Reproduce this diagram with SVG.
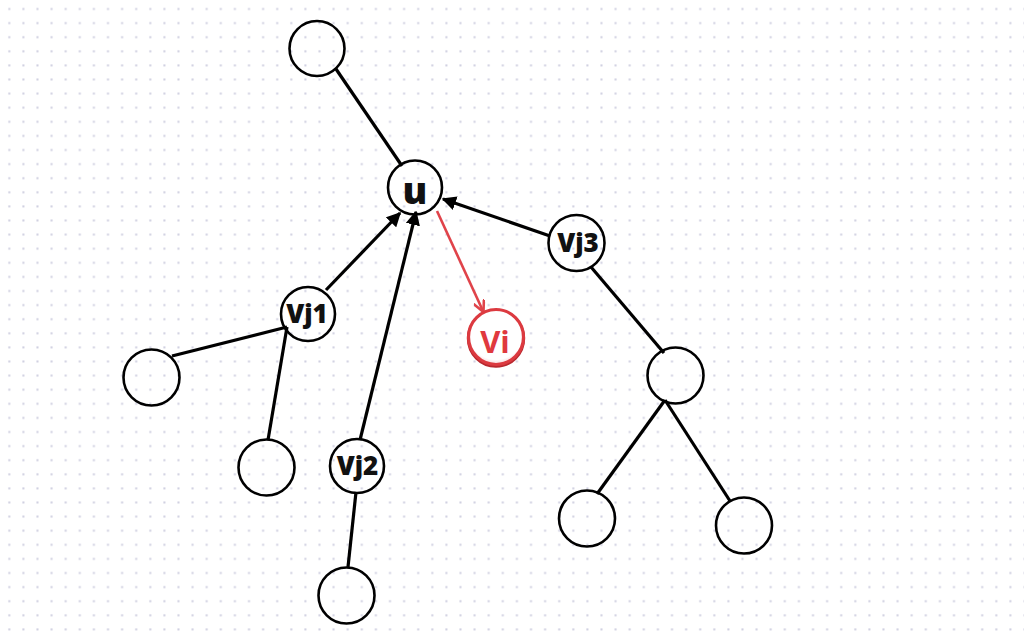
<svg xmlns="http://www.w3.org/2000/svg" width="1024" height="633" viewBox="0 0 1024 633">
<defs>
<pattern id="dots" patternUnits="userSpaceOnUse" x="2.3" y="2" width="14.1" height="14.1">
<rect x="6" y="6" width="2" height="2" fill="#cfcfe0"/>
</pattern>
<marker id="ah" viewBox="0 0 10 10" refX="9" refY="5" markerWidth="4.5" markerHeight="4.5" orient="auto" markerUnits="strokeWidth">
<path d="M0,0 L10,5 L0,10 z" fill="#000"/>
</marker>
<marker id="ahr" viewBox="0 0 10 10" refX="9" refY="5" markerWidth="4.5" markerHeight="4.5" orient="auto" markerUnits="strokeWidth">
<path d="M0,0 L10,5 L0,10" fill="none" stroke="#e0434a" stroke-width="2.2"/>
</marker>
<radialGradient id="vig" cx="50%" cy="40%" r="60%">
<stop offset="0%" stop-color="#ffffff"/>
<stop offset="85%" stop-color="#ffffff"/>
<stop offset="100%" stop-color="#f6d3d5"/>
</radialGradient>
</defs>
<style>
.n{fill:none;stroke:#000;stroke-width:2.6}
.e{stroke:#000;stroke-width:3.2;fill:none}
.t{font-family:"Open Sans","Liberation Sans",sans-serif;font-weight:800;fill:#111;text-anchor:middle}
</style>
<rect width="1024" height="633" fill="#fff"/>
<rect width="1024" height="633" fill="url(#dots)"/>
<g id="connectors">
<line class="e" x1="336" y1="69" x2="402" y2="166"/>
<line class="e" x1="326" y1="290" x2="400" y2="213" marker-end="url(#ah)"/>
<line class="e" x1="360" y1="440" x2="416" y2="212" marker-end="url(#ah)"/>
<line class="e" x1="550" y1="236" x2="443" y2="199" marker-end="url(#ah)"/>
<line x1="437" y1="211" x2="483" y2="311" stroke="#e0434a" stroke-width="2.6" marker-end="url(#ahr)"/>
<line class="e" x1="287" y1="327" x2="172" y2="356"/>
<line class="e" x1="287" y1="327" x2="268" y2="440"/>
<line class="e" x1="356" y1="492" x2="348" y2="567"/>
<line class="e" x1="591" y1="267" x2="664" y2="353"/>
<line class="e" x1="665" y1="400" x2="597" y2="494"/>
<line class="e" x1="665" y1="400" x2="730" y2="501"/>
</g>
<g id="n-top"><circle class="n" cx="317" cy="48.5" r="27.5"/></g>
<g id="n-u"><circle class="n" cx="415" cy="187.5" r="27"/><text class="t" x="415" y="204" font-size="37">u</text></g>
<g id="n-vj1"><circle class="n" cx="308" cy="314" r="27"/><text class="t" x="307" y="323" font-size="26">Vj1</text></g>
<g id="n-vj2"><circle class="n" cx="357" cy="466" r="27"/><text class="t" x="357.5" y="475" font-size="26">Vj2</text></g>
<g id="n-vj3"><circle class="n" cx="576.5" cy="243" r="28"/><text class="t" x="578" y="252" font-size="26">Vj3</text></g>
<g id="n-vi"><circle cx="496" cy="338.5" r="27.5" fill="none" stroke="#b8282e" stroke-width="3.4"/><circle cx="496" cy="337" r="27.5" fill="url(#vig)" stroke="#dc3a40" stroke-width="3.2"/><text x="495" y="353" font-family="'Open Sans','Liberation Sans',sans-serif" font-weight="bold" font-size="31" fill="#e0393e" text-anchor="middle">Vi</text></g>
<g id="n-left"><circle class="n" cx="151.5" cy="377.5" r="28"/></g>
<g id="n-leftbottom"><circle class="n" cx="266.5" cy="467.5" r="28"/></g>
<g id="n-bottom"><circle class="n" cx="346.5" cy="595.5" r="28"/></g>
<g id="n-rightmid"><circle class="n" cx="675.5" cy="375.5" r="28"/></g>
<g id="n-br1"><circle class="n" cx="587" cy="518.5" r="28"/></g>
<g id="n-br2"><circle class="n" cx="744" cy="525.5" r="28"/></g>
</svg>
